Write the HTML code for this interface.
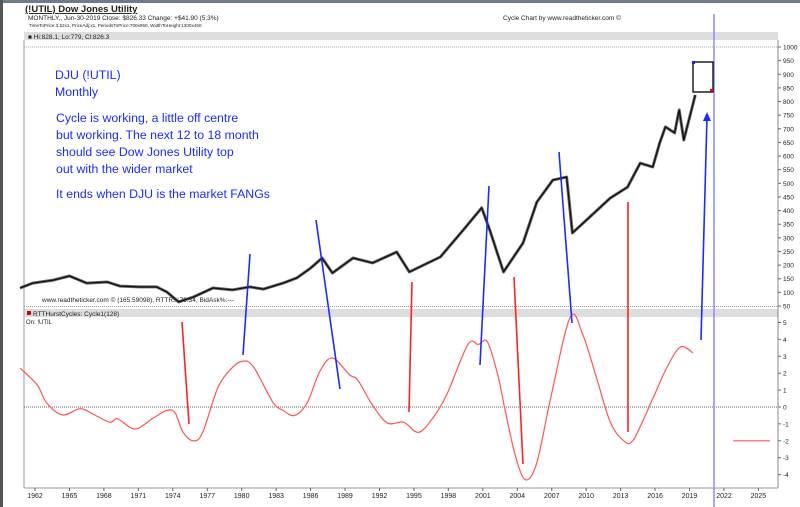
<!DOCTYPE html>
<html><head><meta charset="utf-8">
<style>
body{margin:0;width:800px;height:507px;overflow:hidden;background:#fff;font-family:"Liberation Sans",sans-serif;}
svg{display:block}
</style></head>
<body>
<svg id="c" width="800" height="507" font-family="Liberation Sans, sans-serif">
  <rect x="0" y="0" width="800" height="3" fill="#6d7b8c"/>
  <rect x="0" y="0" width="3" height="507" fill="#555"/>
  <text x="25" y="12" font-size="9.5" font-weight="bold" text-decoration="underline" fill="#222">(!UTIL) Dow Jones Utility</text>
  <text x="28" y="20" font-size="6.5" fill="#222">MONTHLY,, Jun-30-2019  Close: $826.33  Change: +$41.90  (5.3%)</text>
  <text x="29" y="27" font-size="4.6" fill="#222">TimeToPrice:3.52x1, PriceAdj:x1, PeriodsToPrice:700x950, WidthToHeight:1300x450</text>
  <text x="503" y="20" font-size="6.5" fill="#222">Cycle Chart by www.readtheticker.com ©</text>
  <g id="frame"></g>
  <g id="upper"></g>
  <g id="lower"></g>
  <g id="ann"></g>
</svg>
<script>
// Price series (decimal year, DJU close)
const priceYears=[1960.7,1961.8,1963.6,1965,1966.5,1968.3,1969.4,1971.1,1972.6,1973.5,1974.5,1975.8,1977.5,1979.2,1980.7,1981.9,1983.6,1984.8,1986,1987,1987.9,1989.7,1991.4,1993.5,1994.6,1997.3,1999.3,2000.9,2001.6,2002.8,2004.5,2005.7,2007.1,2008.3,2008.8,2010.3,2012.1,2013.6,2014.7,2015.8,2016.4,2016.9,2017.7,2018.1,2018.5,2019.5];
const priceValues=[116,134,145,160,134,138,123,120,120,101,65,83,116,109,120,112,134,153,189,226,171,226,208,248,175,230,329,410,329,175,281,431,512,523,318,376,446,486,574,560,648,707,685,769,659,824];
// Cycle oscillator
const oscYears=[1960.7,1962.2,1963,1964.4,1965.9,1967,1968.5,1969.2,1970.7,1972.3,1973.5,1974.2,1974.9,1975.8,1976.6,1977.9,1979,1980,1981,1982.7,1983.6,1984.6,1985.7,1986.8,1987.9,1989.4,1990.1,1991.4,1992.7,1994.1,1995.4,1996.7,1997.9,1999.7,2000.6,2001.4,2002.3,2002.9,2003.8,2004.7,2005.7,2006.9,2008.6,2009.7,2011,2012.1,2013.2,2014.1,2015.8,2017,2018.2,2019.3];
const oscValues=[2.3,1.3,0.25,-0.47,-0.1,-0.4,-0.9,-0.7,-1.3,-0.65,-0.2,-0.35,-1.5,-2.0,-1.5,1.1,2.2,2.7,2.4,0.3,-0.2,-0.5,0.25,2.1,2.9,1.9,1.6,0.1,-0.95,-0.9,-1.5,-0.6,0.8,3.7,3.7,3.85,1.9,-0.05,-2.8,-4.3,-3.3,0.5,5.3,4.3,1.5,-0.9,-1.95,-1.95,0.5,2.3,3.55,3.2];
const projYears=[2022.8,2026.0];
const projValues=[-2,-2];
const yearTicks=[1962,1965,1968,1971,1974,1977,1980,1983,1986,1989,1992,1995,1998,2001,2004,2007,2010,2013,2016,2019,2022,2025];
const priceTicks=[50,100,150,200,250,300,350,400,450,500,550,600,650,700,750,800,850,900,950,1000];
const oscTicks=[-4,-3,-2,-1,0,1,2,3,4,5];

const NS="http://www.w3.org/2000/svg";
const X=y=>35+(y-1962)*11.483;
const YP=v=>306-(v-50)*(259/950);
const YO=v=>407-v*16.9;
function mk(tag,attrs,parent){const e=document.createElementNS(NS,tag);for(const k in attrs)e.setAttribute(k,attrs[k]);parent.appendChild(e);return e;}
function smooth(pts){let d='M'+pts[0][0]+','+pts[0][1];
  for(let i=0;i<pts.length-1;i++){const p0=pts[Math.max(0,i-1)],p1=pts[i],p2=pts[i+1],p3=pts[Math.min(pts.length-1,i+2)];
    const c1x=p1[0]+(p2[0]-p0[0])/6,c1y=p1[1]+(p2[1]-p0[1])/6,c2x=p2[0]-(p3[0]-p1[0])/6,c2y=p2[1]-(p3[1]-p1[1])/6;
    d+=' C'+c1x+','+c1y+' '+c2x+','+c2y+' '+p2[0]+','+p2[1];}
  return d;}
const fr=document.getElementById('frame'),up=document.getElementById('upper'),lo=document.getElementById('lower'),an=document.getElementById('ann');

let h=mk('rect',{x:24,y:32,width:754,height:8,fill:'#ddd'},fr);

let t=mk('text',{x:28,y:39,'font-size':6.5,fill:'#222'},fr);t.textContent='■ Hi:828.1, Lo:779, Cl:826.3';

h=mk('rect',{x:24,y:309,width:754,height:8,fill:'#ddd'},fr);

mk('rect',{x:27,y:311,width:4,height:4,fill:'#d00'},fr);
t=mk('text',{x:33,y:316,'font-size':6.5,fill:'#222'},fr);t.textContent='RTTHurstCycles: Cycle1(128)';

t=mk('text',{x:26,y:324,'font-size':6,fill:'#222'},fr);t.textContent='On: !UTIL';

mk('line',{x1:24,y1:40,x2:24,y2:488,stroke:'#bbb','stroke-width':1.5},fr);
mk('line',{x1:778,y1:40,x2:778,y2:488,stroke:'#888','stroke-width':1},fr);
mk('line',{x1:24,y1:488,x2:778,y2:488,stroke:'#999','stroke-width':1},fr);
mk('line',{x1:24,y1:306.5,x2:778,y2:306.5,stroke:'#999','stroke-width':1,'stroke-dasharray':'1,1'},fr);
mk('line',{x1:24,y1:47,x2:778,y2:47,stroke:'#aaa','stroke-width':1,'stroke-dasharray':'1,1'},fr);
mk('line',{x1:24,y1:YO(0),x2:778,y2:YO(0),stroke:'#666','stroke-width':1,'stroke-dasharray':'1,1'},fr);
t=mk('text',{x:42,y:302,'font-size':6.5,fill:'#222'},fr);t.textContent='www.readtheticker.com © (165.59098), RTTRsi:79.34, BidAsk%:---';


yearTicks.forEach(y=>{
  mk('line',{x1:X(y),y1:488,x2:X(y),y2:491,stroke:'#666'},fr);
  const e=mk('text',{x:X(y),y:498,'font-size':7,'text-anchor':'middle',fill:'#222'},fr);e.textContent=y;
  
  
});
priceTicks.forEach(v=>{
  mk('line',{x1:778,y1:YP(v),x2:781,y2:YP(v),stroke:'#666'},fr);
  const e=mk('text',{x:783,y:YP(v)+2.5,'font-size':6.5,fill:'#222'},fr);e.textContent=v;
  
  
});
oscTicks.forEach(v=>{
  mk('line',{x1:778,y1:YO(v),x2:781,y2:YO(v),stroke:'#666'},fr);
  const e=mk('text',{x:783,y:YO(v)+2.5,'font-size':6.5,fill:'#222'},fr);e.textContent=v;
  
  
});

let p=mk('polyline',{points:priceYears.map((y,i)=>X(y)+','+YP(priceValues[i])).join(' '),fill:'none',stroke:'#666','stroke-width':3,'stroke-linejoin':'round'},up);

p=mk('polyline',{points:priceYears.map((y,i)=>X(y)+','+YP(priceValues[i])).join(' '),fill:'none',stroke:'#111','stroke-width':1.3,'stroke-linejoin':'round'},up);

p=mk('path',{d:smooth(oscYears.map((y,i)=>[X(y),YO(oscValues[i])])),fill:'none',stroke:'#ff5555','stroke-width':1.2},lo);

p=mk('polyline',{points:projYears.map((y,i)=>X(y)+','+YO(projValues[i])).join(' '),fill:'none',stroke:'#ff5555','stroke-width':1.2},lo);


const blue=[[243,355,250,254],[316,220,340,389],[480,365,489,186],[559,152,572,323],[701,340,707,116]];
const red=[[182,322,189,424],[412,282,409,412],[514,277,523,464],[628,202,628,432]];
blue.forEach(l=>{const e=mk('line',{x1:l[0],y1:l[1],x2:l[2],y2:l[3],stroke:'#1a2cff','stroke-width':1.6},an);
  
  });
red.forEach(l=>{const e=mk('line',{x1:l[0],y1:l[1],x2:l[2],y2:l[3],stroke:'#ff2222','stroke-width':1.6},an);
  
  });
p=mk('polygon',{points:'707,112 703,121 711,121',fill:'#1a2cff'},an);

p=mk('line',{x1:714,y1:14,x2:714,y2:507,stroke:'#8a8cff','stroke-width':1.5},an);

p=mk('rect',{x:693,y:62,width:20,height:30,fill:'none',stroke:'#111','stroke-width':1.4},an);

mk('rect',{x:692,y:61,width:3,height:3,fill:'#22f'},an);
mk('rect',{x:710,y:89,width:3,height:3,fill:'#e00'},an);

const lines=[['DJU (!UTIL)',55,79],['Monthly',55,96],['Cycle is working, a little off centre',56,122],['but working. The next 12 to 18 month',56,139],['should see Dow Jones Utility top',56,156],['out with the wider market',56,173],['It ends when DJU is the market FANGs',56,198]];
lines.forEach(l=>{const e=mk('text',{x:l[1],y:l[2],'font-size':12.3,fill:'#1a2cff'},an);e.textContent=l[0];
  
  });
</script>
</body></html>
